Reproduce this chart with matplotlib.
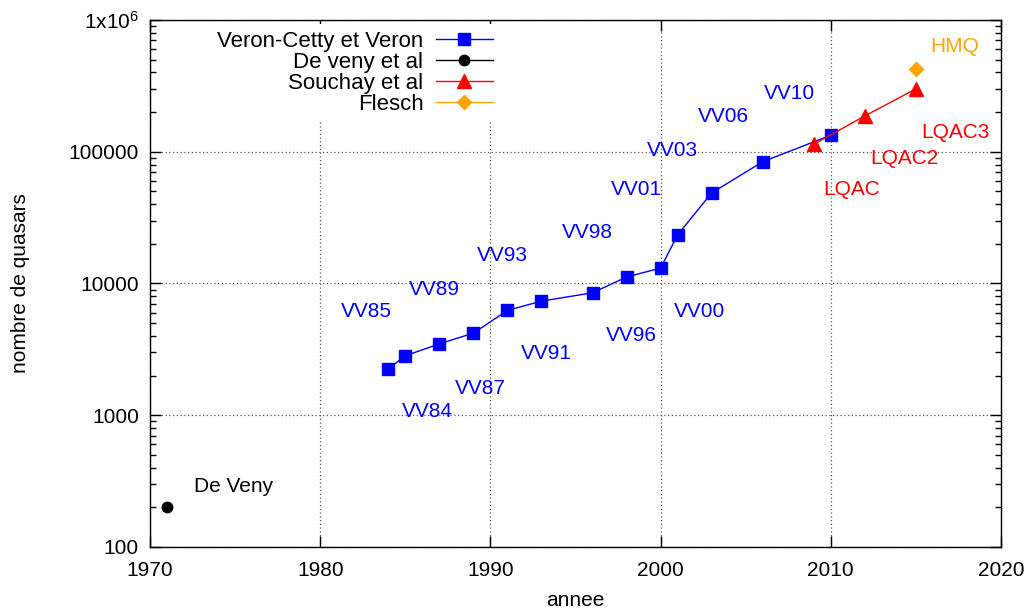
import numpy as np
import matplotlib
matplotlib.use("Agg")
import matplotlib.pyplot as plt

plt.rcParams['font.family'] = ['Liberation Sans', 'DejaVu Sans']
plt.rcParams['mathtext.default'] = 'regular'

# catalogues Veron-Cetty & Veron
vv_annee = [1984, 1985, 1987, 1989, 1991, 1993, 1996, 1998, 2000, 2001, 2003, 2006, 2010]
vv_nombre = [2250, 2830, 3480, 4200, 6250, 7350, 8500, 11200, 13100, 23400, 48700, 84000, 133500]
vv_noms = ["VV84", "VV85", "VV87", "VV89", "VV91", "VV93", "VV96", "VV98",
           "VV00", "VV01", "VV03", "VV06", "VV10"]
# position des etiquettes (annee, nombre)
vv_lab_x = [1986.3, 1982.7, 1989.4, 1986.7, 1993.3, 1990.7, 1998.3, 1995.7,
            2002.3, 1998.6, 2000.7, 2003.7, 2007.6]
vv_lab_y = [1060, 6080, 1610, 8930, 2920, 16200, 4000, 24200,
            6180, 51300, 103000, 186600, 279000]

# De Veny et al
dv_annee = [1971]
dv_nombre = [200]

# Souchay et al (LQAC)
lq_annee = [2009, 2012, 2015]
lq_nombre = [114000, 187000, 300000]
lq_noms = ["LQAC", "LQAC2", "LQAC3"]
lq_lab_x = [2011.25, 2014.3, 2017.3]
lq_lab_y = [52100, 88100, 141000]

# Flesch (HMQ)
hm_annee = [2015]
hm_nombre = [425000]

fig = plt.figure(figsize=(10.29, 6.14), dpi=100)
ax = fig.add_axes([150/1029, 1 - 547/614, 851/1029, 527/614])

ax.plot(vv_annee, vv_nombre, color="#0000ff", lw=1, marker="s", ms=8.5,
        label="Veron-Cetty et Veron")
ax.plot(dv_annee, dv_nombre, color="black", lw=1, marker="o", ms=7.5,
        label="De veny et al")
ax.plot(lq_annee, lq_nombre, color="#ff0000", lw=1, marker="^", ms=9.5,
        label="Souchay et al")
ax.plot(hm_annee, hm_nombre, color="#ffa500", lw=1, marker="D", ms=7,
        label="Flesch")

for nom, x, y in zip(vv_noms, vv_lab_x, vv_lab_y):
    ax.text(x, y, nom, color="#0000ff", fontsize=15, ha="center", va="center")
for nom, x, y in zip(lq_noms, lq_lab_x, lq_lab_y):
    ax.text(x, y, nom, color="#ff0000", fontsize=15, ha="center", va="center")
ax.text(2017.3, 624000, "HMQ", color="#ffa500", fontsize=15, ha="center", va="center")
ax.text(1974.9, 286, "De Veny", color="black", fontsize=15, ha="center", va="center")

ax.set_yscale("log")
ax.set_xlim(1970, 2020)
ax.set_ylim(100, 1e6)
ax.set_xticks([1970, 1980, 1990, 2000, 2010, 2020])
ax.set_yticks([100, 1000, 10000, 100000, 1e6])
ax.set_yticklabels(["100", "1000", "10000", "100000", "1x10$^{6}$"])
ax.tick_params(axis="both", which="both", direction="in", top=True, right=True,
               labelsize=15)
ax.tick_params(which="major", length=8, width=1)
ax.tick_params(axis="x", which="major", pad=10)
ax.tick_params(axis="y", which="major", pad=8)
ax.tick_params(which="minor", length=4, width=1)
ax.xaxis.set_minor_locator(matplotlib.ticker.NullLocator())
ax.grid(True, which="major", color="#555555", linestyle=(0, (1, 2)), lw=0.9)
for s in ax.spines.values():
    s.set_linewidth(1)

ax.set_xlabel("annee", fontsize=15, labelpad=8)
ax.set_ylabel("nombre de quasars", fontsize=15, labelpad=28)

leg = ax.legend(loc="upper left", bbox_to_anchor=(0.058, 1.013), markerfirst=False,
                frameon=True, fancybox=False, edgecolor="none", framealpha=1,
                fontsize=16, handlelength=2.6, handletextpad=0.55,
                labelspacing=0.0, borderpad=0.3)
for t in leg.get_texts():
    t.set_ha("right")

fig.savefig("out.png", dpi=100)
